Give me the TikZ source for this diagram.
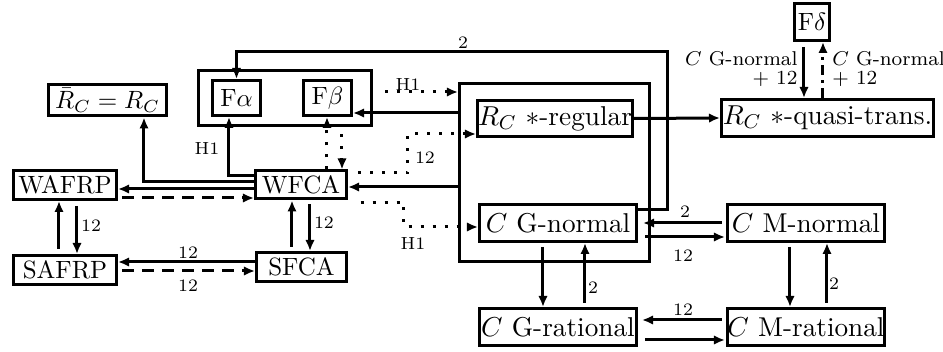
\documentclass[tikz,border=0pt]{standalone}
\usetikzlibrary{arrows.meta}
\tikzset{
  box/.style={draw, line width=1.2pt, inner sep=0pt, align=center},
  bigtext/.style={font=\fontsize{10.9}{13}\selectfont},
  conn/.style={line width=1.2pt},
  arr/.style={conn, -{Latex[length=4.4pt,width=3.8pt]}},
  dotline/.style={dash pattern=on 1.2pt off 3.6pt},
  dashline/.style={dash pattern=on 4.6pt off 3.4pt},
  ddline/.style={dash pattern=on 4pt off 2pt on 1.2pt off 2pt},
  lbl/.style={font=\scriptsize, inner sep=1pt},
  flbl/.style={font=\footnotesize, inner sep=0pt},
}
\begin{document}
\begin{tikzpicture}[x=0.4pt,y=-0.4pt]
\useasboundingbox (0,0) rectangle (943,352);
% containers
\node[box, minimum width=69.2pt, minimum height=22pt] (fbox) at (285,98) {};
\node[box, minimum width=76pt, minimum height=71.2pt] (bigbox) at (554.5,172.5) {};
% nodes
\node[box, minimum width=47.2pt, minimum height=12.4pt] (rbar) at (107.5,100.5) {$\bar{R}_C = R_C$};
\node[box, minimum width=19.2pt, minimum height=14pt] (falpha) at (236.5,98) {F$\alpha$};
\node[box, minimum width=19.2pt, minimum height=14pt] (fbeta) at (327.5,98) {F$\beta$};
\node[box, minimum width=41.2pt, minimum height=11.6pt] (wafrp) at (65,185) {WAFRP};
\node[box, minimum width=41.2pt, minimum height=11.6pt] (safrp) at (65,270) {SAFRP};
\node[box, minimum width=36.4pt, minimum height=11.2pt] (wfca) at (301,185) {WFCA};
\node[box, minimum width=36pt, minimum height=11.6pt] (sfca) at (301.5,267) {SFCA};
\node[box, bigtext, minimum width=62pt, minimum height=14.4pt] (rreg) at (555,118.5) {$R_C$ $*$-regular};
\node[box, bigtext, minimum width=62.8pt, minimum height=14.8pt] (gnorm) at (558,223) {$C$ G-normal};
\node[box, bigtext, minimum width=62.8pt, minimum height=14.8pt] (grat) at (558,327) {$C$ G-rational};
\node[box, bigtext, minimum width=62.8pt, minimum height=14.8pt] (mnorm) at (806,223) {$C$ M-normal};
\node[box, bigtext, minimum width=62.8pt, minimum height=14.8pt] (mrat) at (806,327) {$C$ M-rational};
\node[box, bigtext, minimum width=84.8pt, minimum height=14.8pt] (qt) at (827.5,118) {$R_C$ $*$-quasi-trans.};
\node[box, minimum width=14pt, minimum height=14.8pt] (fdelta) at (812,22) {F$\delta$};
% top loop G-normal -> F alpha
\draw[arr] (gnorm.east|-0,210) -| (668,52) -| (falpha.north);
\node[lbl] (l2top) at (463,43) {2};
% WFCA -> F alpha
\draw[arr] (wfca.west|-0,176) -| (falpha.south-|229,0);
\node[lbl] (lh1a) at (207,149) {H1};
% WFCA -> Rbar
\draw[arr] (wfca.west|-0,182) -| (rbar.south-|144,0);
% WFCA <-> WAFRP
\draw[arr] (wfca.west|-0,189) -- (wafrp.east|-0,189);
\draw[arr, dashline, shorten <=1.6pt] (wafrp.east|-0,198) -- (wfca.west|-0,198);
% WAFRP <-> SAFRP
\draw[arr, shorten <=2pt] (wafrp.south-|77,0) -- (safrp.north-|77,0);
\node[lbl] (l12a) at (91,226) {12};
\draw[arr, shorten <=2pt] (safrp.north-|59,0) -- (wafrp.south-|59,0);
% WFCA <-> SFCA
\draw[arr, shorten <=1.6pt] (wfca.south-|310,0) -- (sfca.north-|310,0);
\node[lbl] (l12b) at (324,223) {12};
\draw[arr, shorten <=1.6pt] (sfca.north-|292,0) -- (wfca.south-|292,0);
% SFCA <-> SAFRP
\draw[arr] (sfca.west|-0,262) -- (safrp.east|-0,262);
\node[lbl] (l12c) at (188,253) {12};
\draw[arr, dashline, shorten <=1.6pt] (safrp.east|-0,271) -- (sfca.west|-0,271);
\node[lbl] (l12d) at (188,286) {12};
% F beta <-> WFCA dotted
\draw[arr, dotline] (wfca.north-|327,0) -- (fbeta.south-|327,0);
\draw[arr, dotline, shorten <=3pt] (fbox.south-|342,0) -- (wfca.north-|342,0);
% fbox -> bigbox dotted
\draw[arr, dotline, shorten <=4.8pt] (fbox.east|-0,92) -- (bigbox.west|-0,92);
\node[lbl] (lh1b) at (408,85) {H1};
% bigbox -> F beta, WFCA
\draw[arr] (bigbox.west|-0,113) -- (fbeta.east|-0,113);
\draw[arr] (bigbox.west|-0,187) -- (wfca.east|-0,187);
% WFCA dotted -> R_C regular
\draw[arr, dotline, shorten <=4pt] (wfca.east|-0,173) -- (408,173) -- (408,134) -- (rreg.west|-0,134);
\node[lbl] (l12e) at (425,158) {12};
% WFCA dotted -> G-normal
\draw[arr, dotline, shorten <=5pt] (wfca.east|-0,203) -- (404,203) -- (404,227) -- (gnorm.west|-0,227);
\node[lbl] (lh1c) at (413,244) {H1};
% R_C regular -> quasi-trans
\draw[arr] (rreg.east) -- (qt.west);
% F delta <-> quasi-trans
\draw[arr, shorten <=2pt] (fdelta.south-|804,0) -- (qt.north-|804,0);
\draw[arr, ddline] (qt.north-|823,0) -- (fdelta.south-|823,0);
\node[flbl, align=right, anchor=east] (lfl) at (798,69) {$C$ G-normal\\[-2pt]+ 12\hspace{5pt}};
\node[flbl, align=left, anchor=west] (lfr) at (832,69) {$C$ G-normal\\[-2pt]+ 12};
% G-normal <-> M-normal
\draw[arr, shorten <=1.6pt, shorten >=2pt] (mnorm.west) -- (gnorm.east|-0,223);
\node[lbl] (l2a) at (685,212) {2};
\draw[arr, shorten <=2.8pt, shorten >=0.4pt] (gnorm.east|-0,237) -- (mnorm.west|-0,237);
\node[lbl] (l12f) at (683,256) {12};
% G-rational <-> M-rational
\draw[arr, shorten <=1.6pt, shorten >=1.6pt] (mrat.west|-0,320) -- (grat.east|-0,320);
\node[lbl] (l12g) at (683,310) {12};
\draw[arr, shorten <=2.8pt, shorten >=0.4pt] (grat.east|-0,340) -- (mrat.west|-0,340);
% G-normal <-> G-rational
\draw[arr, shorten <=1.6pt] (gnorm.south-|543,0) -- (grat.north-|543,0);
\draw[arr, shorten <=1.6pt] (grat.north-|585,0) -- (gnorm.south-|585,0);
\node[lbl] (l2b) at (593,288) {2};
% M-normal <-> M-rational
\draw[arr, shorten <=1.6pt] (mnorm.south-|790,0) -- (mrat.north-|790,0);
\draw[arr, shorten <=1.6pt] (mrat.north-|827,0) -- (mnorm.south-|827,0);
\node[lbl] (l2c) at (834,284) {2};
\end{tikzpicture}
\end{document}
